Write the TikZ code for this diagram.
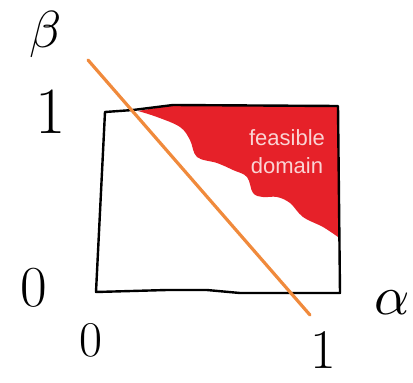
\documentclass[tikz,border=0pt]{standalone}
\usepackage{fontspec}
\newfontfamily\labelfont{Liberation Sans}
\definecolor{feasred}{HTML}{E62129}
\definecolor{lineorange}{HTML}{F08A3C}
\definecolor{textpink}{HTML}{FAD4D4}
\begin{document}
\begin{tikzpicture}[x=1pt,y=-1pt,
  boxline/.style={draw=black,line width=2.4pt,line join=round,line cap=round},
  orangeline/.style={draw=lineorange,line width=3.2pt,line cap=round},
  hand/.style={inner sep=0pt,text=black},
  feastext/.style={text=textpink,font=\labelfont\fontsize{22}{28}\selectfont,align=center,inner sep=0pt}]
\useasboundingbox (0,0) rectangle (413,383);
% feasible region
\fill[feasred] plot[smooth,tension=0.6] coordinates {(338,237) (323,227) (303,217) (290,203) (277,197) (263,197) (253,193) (247,177) (233,170) (217,163) (197,157) (190,140) (180,127) (157,117) (138,111)} -- (173,105) -- (338,106) -- cycle;
% box
\draw[boxline] (105,112) -- (133,110) -- (173,105) -- (338,106) -- (340,293) -- (240,293) -- (207,290) -- (167,290) -- (96,292) -- cycle;
% orange line
\coordinate (ostart) at (88,60);
\coordinate (oend) at (310,315);
\draw[orangeline] (ostart) -- (oend);
% text
\node[feastext] (feas) at (287,152) {feasible\\domain};
% hand labels
\node[hand,scale=5.2] (beta) at (46,34) {$\beta$};
\node[hand,font=\fontsize{66}{66}\selectfont] (oneleft) at (51,112) {1};
\node[hand,font=\fontsize{58}{58}\selectfont] (zeroleft) at (34,288) {0};
\node[hand,font=\fontsize{50}{50}\selectfont] (zerobottom) at (91,340) {0};
\node[hand,font=\fontsize{56}{56}\selectfont] (onebottom) at (323,350) {1};
\node[hand,scale=5.5,anchor=west] (alpha) at (373,303) {$\alpha$};
\end{tikzpicture}
\end{document}
